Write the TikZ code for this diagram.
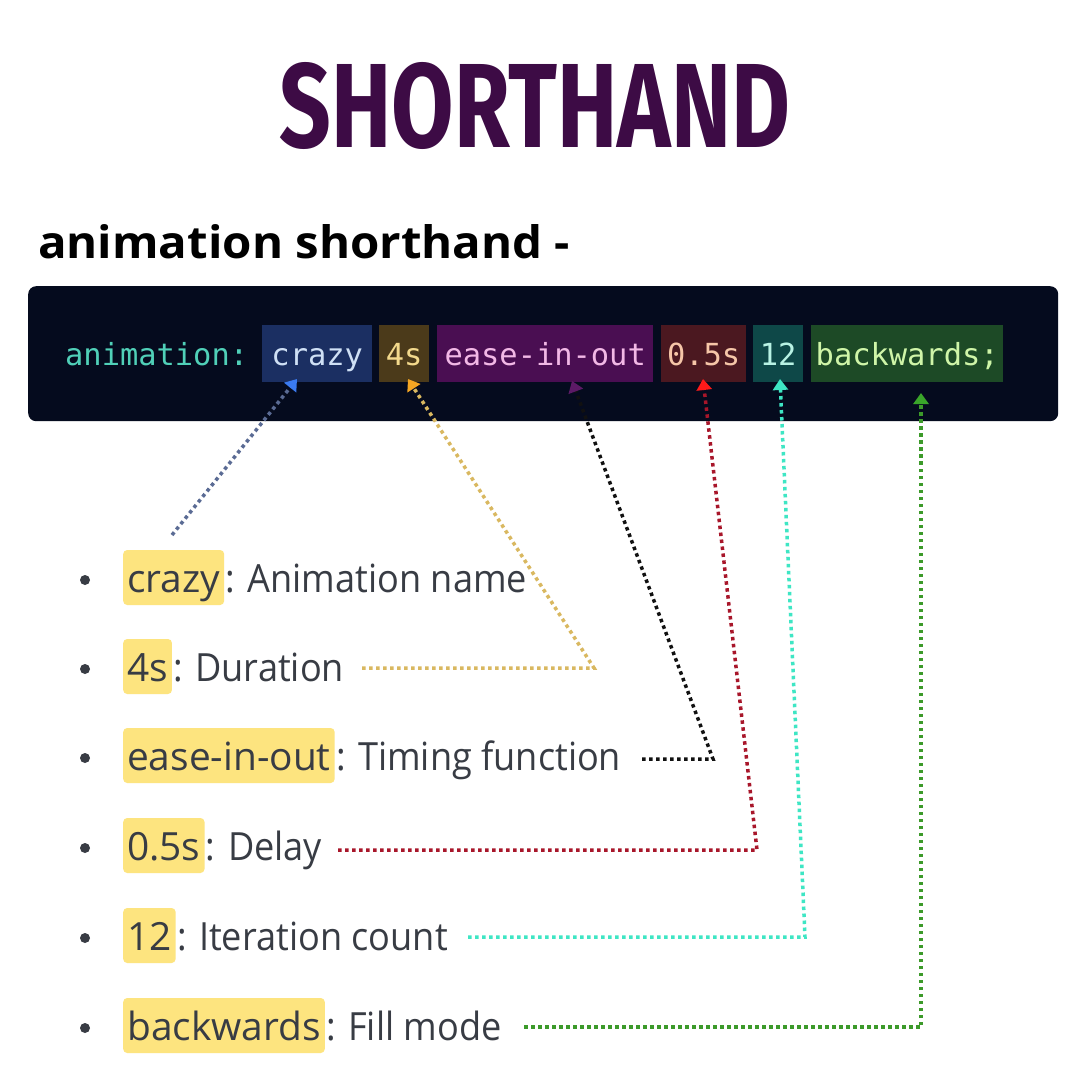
\documentclass[tikz,border=0pt]{standalone}
\usepackage{fontspec}
\setmainfont{Open Sans}
\newfontfamily\monofont{DejaVu Sans Mono}
\newfontfamily\titlefont{Fira Sans}
\usetikzlibrary{arrows.meta}
\definecolor{titlec}{HTML}{3D0B45}
\definecolor{codebg}{HTML}{050B1E}
\definecolor{kwc}{HTML}{50D0B8}
\definecolor{crazybg}{HTML}{1B2F62}\definecolor{crazyfg}{HTML}{CFE0F5}
\definecolor{durbg}{HTML}{4B3A1A}\definecolor{durfg}{HTML}{F3D98C}
\definecolor{easebg}{HTML}{4A0E52}\definecolor{easefg}{HTML}{F2B8E6}
\definecolor{delbg}{HTML}{4B1820}\definecolor{delfg}{HTML}{F6C6A8}
\definecolor{itbg}{HTML}{0E4848}\definecolor{itfg}{HTML}{B8F2E4}
\definecolor{fillbg}{HTML}{1D4A26}\definecolor{fillfg}{HTML}{CFF5A8}
\definecolor{hly}{HTML}{FDE47F}
\definecolor{txt}{HTML}{383C44}
\definecolor{blueln}{HTML}{5A6B94}\definecolor{bluetip}{HTML}{3A7AF0}
\definecolor{orln}{HTML}{D9B860}\definecolor{ortip}{HTML}{F5A623}
\definecolor{blkln}{HTML}{111111}\definecolor{blktip}{HTML}{5C1A66}
\definecolor{redln}{HTML}{A8162A}\definecolor{redtip}{HTML}{FF1A1A}
\definecolor{tealln}{HTML}{3EE6C4}
\definecolor{grnln}{HTML}{3C9A2A}\definecolor{grntip}{HTML}{3AA52A}
\newcommand{\dsc}[1]{\scalebox{0.93}[1]{#1}}
\begin{document}
\begin{tikzpicture}[x=1bp,y=-1bp,
  tok/.style={anchor=base west, inner xsep=2bp, inner ysep=0pt, text height=40bp, text depth=17bp,
    font=\monofont\fontsize{30.5}{36}\selectfont},
  hl/.style={anchor=base west, fill=hly, rounded corners=4bp, inner xsep=4bp, inner ysep=0pt,
    text height=42bp, text depth=13bp, text=txt, font=\fontsize{39}{46}\selectfont},
  desc/.style={anchor=base west, inner xsep=1bp, inner ysep=0pt, text=txt, font=\fontsize{39}{46}\selectfont},
  bul/.style={circle, fill=txt, inner sep=0pt, minimum size=10bp},
  conn/.style={line width=3.5bp, dash pattern=on 3.5bp off 3.5bp},
  tip/.style={-{Triangle[width=15bp,length=11bp,color=#1]}}
]
\fill[white] (0,0) rectangle (1080,1080);
\useasboundingbox (0,0) rectangle (1080,1080);

% title
\node[inner sep=0pt, text=titlec] (title) at (535,106) {\resizebox{510bp}{85bp}{\titlefont\bfseries SHORTHAND}};
\node[anchor=base west, inner sep=0pt, font=\fontsize{42}{50}\selectfont\bfseries] (head) at (38,258) {\resizebox{532bp}{34bp}{animation shorthand -}};

% code box
\node[fill=codebg, rounded corners=8bp, minimum width=1030bp, minimum height=135bp, anchor=north west, inner sep=0pt] (codebox) at (28,286) {};
\node[anchor=base west, inner sep=0pt, text=kwc, font=\monofont\fontsize{30.5}{36}\selectfont] (kw) at (65,365) {animation:};
\node[tok, fill=crazybg, text=crazyfg, minimum width=110bp] (t1) at (262,365) {crazy};
\node[tok, fill=durbg, text=durfg, minimum width=50bp] (t2) at (379,365) {4s};
\node[tok, fill=easebg, text=easefg, minimum width=216bp] (t3) at (437,365) {ease-in-out};
\node[tok, fill=delbg, text=delfg, minimum width=85bp] (t4) at (661,365) {0.5s};
\node[tok, fill=itbg, text=itfg, minimum width=50bp] (t5) at (753,365) {12};
\node[tok, fill=fillbg, text=fillfg, minimum width=192bp] (t6) at (811,365) {backwards;};

% bullet list
\node[bul] (b1) at (85,580) {};
\node[hl] (k1) at (123,592) {crazy};
\node[desc] (d1) at (k1.base east) {\dsc{: Animation name}};
\node[bul] (b2) at (85,669) {};
\node[hl] (k2) at (123,681) {4s};
\node[desc] (d2) at (k2.base east) {\dsc{: Duration}};
\node[bul] (b3) at (85,758) {};
\node[hl] (k3) at (123,770) {ease-in-out};
\node[desc] (d3) at (k3.base east) {\dsc{: Timing function}};
\node[bul] (b4) at (85,848) {};
\node[hl] (k4) at (123,860) {0.5s};
\node[desc] (d4) at (k4.base east) {\dsc{: Delay}};
\node[bul] (b5) at (85,938) {};
\node[hl] (k5) at (123,950) {12};
\node[desc] (d5) at (k5.base east) {\dsc{: Iteration count}};
\node[bul] (b6) at (85,1028) {};
\node[hl] (k6) at (123,1040) {backwards};
\node[desc] (d6) at (k6.base east) {\dsc{: Fill mode}};

% connector coordinates
\coordinate (a1) at (297,379);
\coordinate (s1) at (172,535);
\coordinate (a2) at (408,379);
\coordinate (c2) at (594,668);
\coordinate (s2) at (362,668);
\coordinate (a3) at (572,381);
\coordinate (c3) at (713,759);
\coordinate (s3) at (642,759);
\coordinate (a4) at (703,379);
\coordinate (c4) at (757,850);
\coordinate (s4) at (338,850);
\coordinate (a5) at (780,379);
\coordinate (c5) at (805,937);
\coordinate (s5) at (468,937);
\coordinate (a6) at (921,393);
\coordinate (c6) at (921,1027);
\coordinate (s6) at (524,1027);

\draw[conn, blueln, tip=bluetip] (s1) -- (a1);
\draw[conn, orln, tip=ortip] (s2) -- (c2) -- (a2);
\draw[conn, blkln, tip=blktip] (s3) -- (c3) -- (a3);
\draw[conn, redln, tip=redtip] (s4) -- (c4) -- (a4);
\draw[conn, tealln, tip=tealln] (s5) -- (c5) -- (a5);
\draw[conn, grnln, tip=grntip] (s6) -- (c6) -- (a6);
\end{tikzpicture}
\end{document}
